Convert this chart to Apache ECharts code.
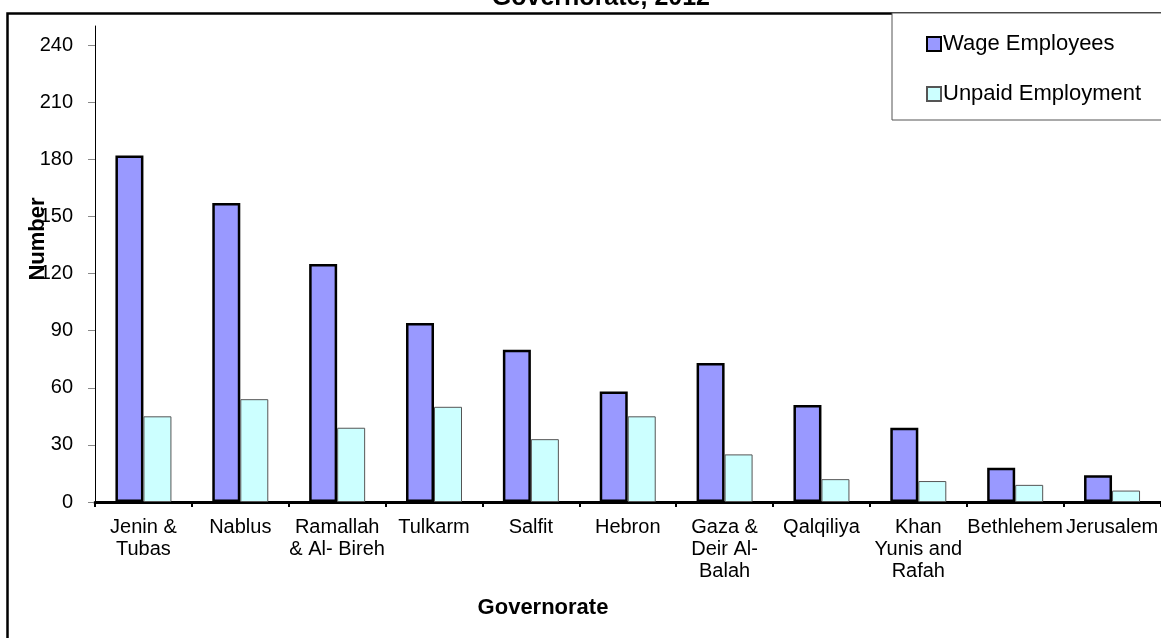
<!DOCTYPE html>
<html>
<head>
<meta charset="utf-8">
<title>Wage Employees and Unpaid Employment by Governorate, 2012</title>
<script src="https://cdn.jsdelivr.net/npm/echarts@6/dist/echarts.min.js"></script>
<style>
  html, body { margin: 0; padding: 0; background: #fff; }
  #chart { width: 1161px; height: 638px; }
</style>
</head>
<body>
<div id="chart"></div>
<script>
// Governorate labels (wrapped as they appear under the axis)
const categories = [
  'Jenin &\nTubas',
  'Nablus',
  'Ramallah\n& Al- Bireh',
  'Tulkarm',
  'Salfit',
  'Hebron',
  'Gaza &\nDeir Al-\nBalah',
  'Qalqiliya',
  'Khan\nYunis and\nRafah',
  'Bethlehem',
  'Jerusalem'
];

// Number of persons per governorate
const wageEmployees    = [182, 157, 125, 94, 80, 58, 73, 51, 39, 18, 14];
const unpaidEmployment = [45, 54, 39, 50, 33, 45, 25, 12, 11, 9, 6];

// Value axis ticks
const yTicks = [0, 30, 60, 90, 120, 150, 180, 210, 240];

const seriesNames = ['Wage Employees', 'Unpaid Employment'];
const FONT = 'Liberation Sans, Arial, Helvetica, sans-serif';

const chart = echarts.init(document.getElementById('chart'), null, { renderer: 'canvas' });

chart.setOption({
  backgroundColor: '#ffffff',
  animation: false,
  textStyle: { fontFamily: FONT, color: '#000' },
  graphic: [
    // outer chart frame
    {
      type: 'rect', z: -10, silent: true,
      shape: { x: 7.5, y: 13.5, width: 1200, height: 700 },
      style: { fill: 'none', stroke: '#000', lineWidth: 2.5 }
    },
    // chart title (second line)
    {
      type: 'text', z: 10, silent: true,
      x: 710, y: -2,
      style: {
        text: 'Governorate, 2012', fill: '#000',
        font: 'bold 25px ' + FONT,
        align: 'right', verticalAlign: 'middle'
      }
    },
    // value axis title
    {
      type: 'text', z: 10, silent: true,
      x: 38, y: 239, rotation: Math.PI / 2,
      style: {
        text: 'Number', fill: '#000',
        font: 'bold 22px ' + FONT,
        align: 'center', verticalAlign: 'middle'
      }
    },
    // category axis title
    {
      type: 'text', z: 10, silent: true,
      x: 543, y: 608,
      style: {
        text: 'Governorate', fill: '#000',
        font: 'bold 22px ' + FONT,
        align: 'center', verticalAlign: 'middle'
      }
    }
  ],
  legend: {
    data: seriesNames,
    orient: 'vertical',
    left: 892,
    top: 13,
    padding: [20, 40, 15, 34],
    itemGap: 28,
    itemWidth: 14,
    itemHeight: 14,
    icon: 'rect',
    backgroundColor: '#fff',
    borderColor: '#555',
    borderWidth: 1,
    textStyle: { fontSize: 22, color: '#000', fontFamily: FONT, padding: [0, 0, 0, -3] }
  },
  grid: {
    left: 95,
    right: -3,
    top: 26,
    bottom: 136,
    containLabel: false
  },
  xAxis: {
    type: 'category',
    data: categories,
    boundaryGap: true,
    axisLine: { show: true, lineStyle: { color: '#000', width: 3 } },
    axisTick: { show: true, alignWithLabel: false, length: 5, lineStyle: { color: '#000', width: 2 } },
    axisLabel: {
      interval: 0,
      margin: 14,
      fontSize: 20,
      lineHeight: 22,
      color: '#000',
      fontFamily: FONT,
      align: 'center'
    },
    splitLine: { show: false }
  },
  yAxis: {
    type: 'value',
    min: 0,
    max: 250,
    interval: 30,
    axisLine: { show: true, lineStyle: { color: '#000', width: 1 } },
    axisTick: { show: true, length: 7, customValues: yTicks, lineStyle: { color: '#888', width: 1 } },
    axisLabel: { margin: 22, fontSize: 20, color: '#000', fontFamily: FONT, customValues: yTicks },
    splitLine: { show: false }
  },
  series: [
    {
      name: seriesNames[0],
      type: 'bar',
      data: wageEmployees,
      barWidth: 28,
      barGap: '0%',
      itemStyle: { color: '#9999FF', borderColor: '#000', borderWidth: 2.5 }
    },
    {
      name: seriesNames[1],
      type: 'bar',
      data: unpaidEmployment,
      barWidth: 28,
      barGap: '0%',
      itemStyle: { color: '#CCFFFF', borderColor: '#555', borderWidth: 1 }
    }
  ]
});
</script>
</body>
</html>
